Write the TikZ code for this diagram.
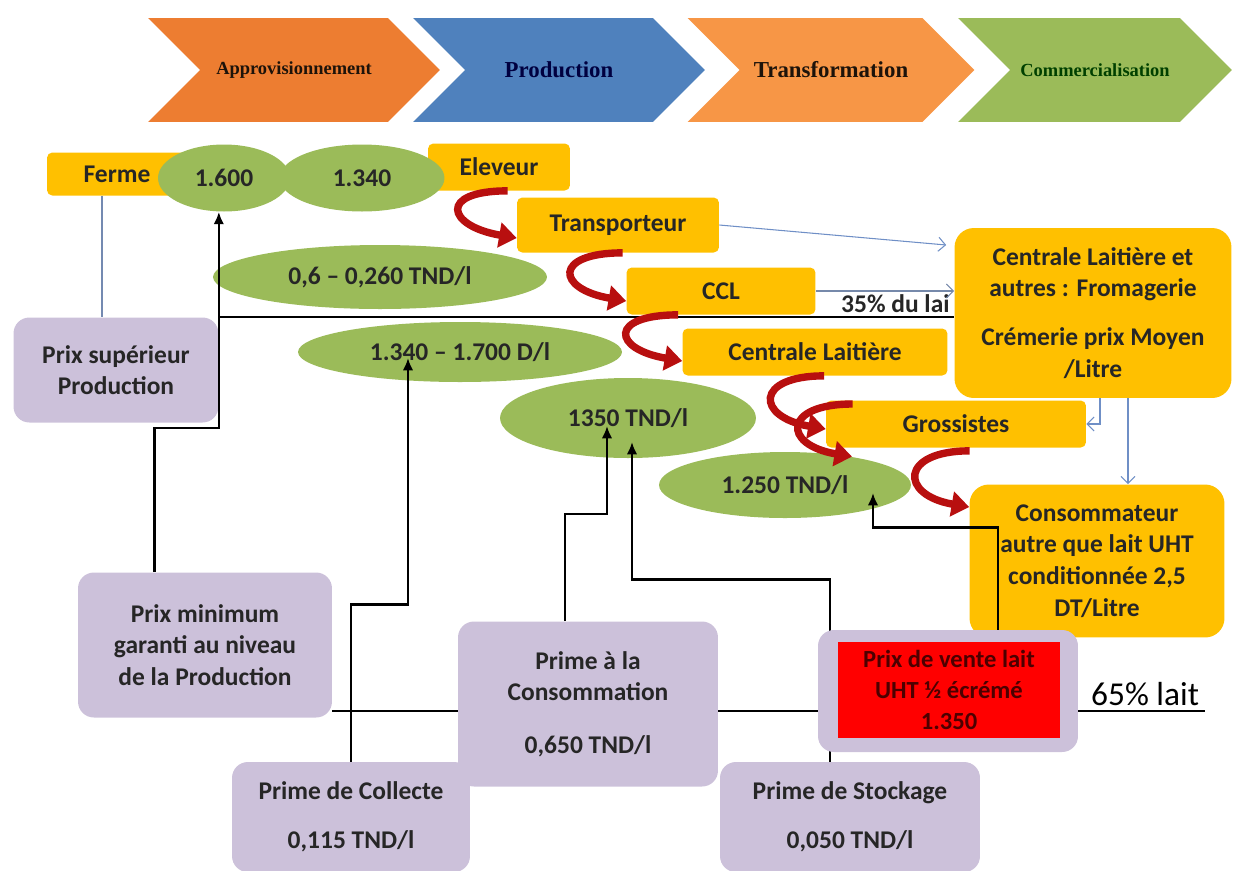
\documentclass[tikz,border=0pt]{standalone}
\usepackage{fontspec}
\setmainfont{Carlito}
\newfontfamily\headserif{Liberation Serif}
\usetikzlibrary{arrows.meta,shapes.geometric,shapes.symbols,calc}

\definecolor{amber}{HTML}{FFC000}
\definecolor{leaf}{HTML}{9BBB59}
\definecolor{lilac}{HTML}{CCC1DA}
\definecolor{brick}{HTML}{B80F0F}
\definecolor{steel}{HTML}{6F8FC6}
\definecolor{chevA}{HTML}{ED7D31}
\definecolor{chevB}{HTML}{4F81BD}
\definecolor{chevC}{HTML}{F79646}

\begin{document}
\begin{tikzpicture}[x=0.02cm, y=-0.02cm,
    every node/.style={font=\fontsize{14.5}{18}\selectfont\bfseries, text=black!85},
    chev/.style={signal, signal from=west, signal to=east, minimum height=2.08cm, inner sep=0pt},
    actor/.style={fill=amber, rounded corners=3pt, align=center, inner sep=2pt},
    price/.style={ellipse, fill=leaf, inner sep=0pt},
    aid/.style={fill=lilac, rounded corners=9pt, align=center, inner sep=2pt},
    link/.style={-{Latex[length=7pt,width=6pt]}, line width=1.4pt, black},
    feed/.style={-{Straight Barb[length=4pt,width=8pt]}, line width=0.6pt, steel},
    turn/.style={-{Triangle[length=10pt,width=14pt]}, line width=4.2pt, brick,
        to path={.. controls +(-70,0) and +(-70,-12) .. (\tikztotarget)}}
]
\useasboundingbox (0,0) rectangle (1234,870);

\node[chev, fill=chevA, minimum width=5.84cm, text=black!85!brown,
    font={\headserif\bfseries\fontsize{10.5}{12}\selectfont}] (c1) at (294,70) {Approvisionnement};
\node[chev, fill=chevB, minimum width=5.84cm, text=blue!25!black,
    font={\headserif\bfseries\fontsize{13}{15}\selectfont}] (c2) at (559,70) {Production};
\node[chev, fill=chevC, minimum width=5.74cm, text=black!85!brown,
    font={\headserif\bfseries\fontsize{13}{15}\selectfont}] (c3) at (831,70) {Transformation};
\node[chev, fill=leaf, minimum width=5.48cm, text=green!25!black,
    font={\headserif\bfseries\fontsize{10.5}{12}\selectfont}] (c4) at (1095,70) {Commercialisation};

\node[actor, minimum width=2.8cm, minimum height=0.86cm] (ferme) at (117,174) {Ferme};
\node[actor, minimum width=2.84cm, minimum height=0.94cm] (eleveur) at (499,167) {Eleveur};
\node[price, minimum width=2.64cm, minimum height=1.34cm] (e1600) at (224,178) {1.600};
\node[price, minimum width=3.3cm, minimum height=1.34cm] (e1340) at (362,178) {1.340};
\node[actor, minimum width=4.04cm, minimum height=1.1cm] (transp) at (618,225) {Transporteur};
\node[actor, minimum width=3.78cm, minimum height=0.94cm] (ccl) at (721,291) {CCL};
\node[actor, minimum width=5.3cm, minimum height=0.94cm] (central) at (815,352) {Centrale Laitière};
\node[actor, minimum width=5.2cm, minimum height=0.94cm] (gross) at (956,424) {Grossistes};
\node[actor, rounded corners=11pt, minimum width=5.54cm, minimum height=3.4cm] (autres) at (1093,313)
    {Centrale Laitière et\\autres : Fromagerie\\[10pt]Crémerie prix Moyen\\/Litre};
\node[actor, rounded corners=11pt, minimum width=5.1cm, minimum height=3.06cm] (conso) at (1097,561)
    {Consommateur\\autre que lait UHT\\conditionnée 2,5\\DT/Litre};

\node[price, minimum width=6.68cm, minimum height=1.28cm] (e060) at (380,277) {0,6 – 0,260 TND/l};
\node[price, minimum width=6.48cm, minimum height=1.2cm] (e1700) at (460,352) {1.340 – 1.700 D/l};
\node[price, minimum width=5.12cm, minimum height=1.6cm] (e1350) at (628,418) {1350 TND/l};
\node[price, minimum width=5.04cm, minimum height=1.32cm] (e1250) at (785,485) {1.250 TND/l};

\node[aid, minimum width=4.1cm, minimum height=2.1cm] (psup) at (116,370) {Prix supérieur\\Production};
\node[aid, minimum width=5.08cm, minimum height=2.9cm] (pmin) at (205,645)
    {Prix minimum\\garanti au niveau\\de la Production};
\node[anchor=base west] (l35) at (835,312) {35\% du lai};
\node[anchor=base west, text=black, font=\fontsize{19}{22}\selectfont] (l65) at (1085,705) {65\% lait};
\coordinate (u65) at ($(l65.base east)+(0,6)$);
\draw[line width=0.9pt] (pmin.east |- u65) -- (u65);
\draw[line width=1.3pt] (psup.north east) -- (psup.north east -| autres.west);

\node[aid, minimum width=4.76cm, minimum height=2.2cm] (pcoll) at (351,817) {Prime de Collecte\\[10pt]0,115 TND/l};
\node[aid, minimum width=5.2cm, minimum height=3.3cm] (pconso) at (588,704)
    {Prime à la\\Consommation\\[12pt]0,650 TND/l};
\node[aid, minimum width=5.2cm, minimum height=2.2cm] (pstock) at (850,817) {Prime de Stockage\\[10pt]0,050 TND/l};

\draw[link] ($(pstock.north)+(-20,0)$) -- ++(0,-182) -| ($(e1350.center)+(4,24)$);

\node[aid, minimum width=5.2cm, minimum height=2.44cm] (pvente) at (948,691) {};
\node[fill=red, minimum width=4.44cm, minimum height=1.92cm, align=center, text=red!30!black,
    font=\fontsize{14}{17.5}\selectfont\bfseries] (prix) at (949,690) {Prix de vente lait\\UHT ½ écrémé\\1.350};

\draw[link] ($(pmin.north west)+(77,0)$) |- ($(psup.south east)+(0,5)$) -- (psup.east |- e1600.south);
\draw[link] (pcoll.north) -- ++(0,-157) -| ($(e1700.center)+(-52,6)$);
\draw[link] ($(pconso.north)+(-23,0)$) -- ++(0,-107) -| ($(e1350.center)+(-21,8)$);
\draw[link] ($(pvente.north)+(50,0)$) -- ++(0,-102) -| ($(e1250.center)+(88,8)$);

\coordinate (fm) at ($(ferme.south)+(-15,0)$);
\draw[line width=0.6pt, steel!70!gray] (fm) -- (fm |- psup.north);
\draw[feed] (transp.east) -- ($(autres.west)+(-8,-68)$);
\draw[feed, steel!60!gray] (ccl.east) -- (ccl.east -| autres.west);
\draw[feed] ($(autres.south)+(7,0)$) |- (gross.east);
\draw[feed] ($(autres.south)+(35,0)$) -- ($(conso.north)+(31,0)$);

\draw[turn] ($(eleveur.south west)+(80,0)$) to ($(transp.west)+(0,13)$);
\draw[turn] ($(transp.south west)+(106,0)$) to ($(ccl.west)+(0,10)$);
\draw[turn] ($(ccl.south west)+(52,0)$) to ($(central.west)+(0,9)$);
\draw[turn] ($(central.south west)+(142,0)$) to ($(gross.west)+(0,5)$);
\draw[turn] ($(gross.west)+(27,-20)$) to ($(e1250.north)+(67,5)$);
\draw[turn] ($(gross.south west)+(144,3)$) to ($(conso.west)+(0,-54)$);
\end{tikzpicture}
\end{document}
